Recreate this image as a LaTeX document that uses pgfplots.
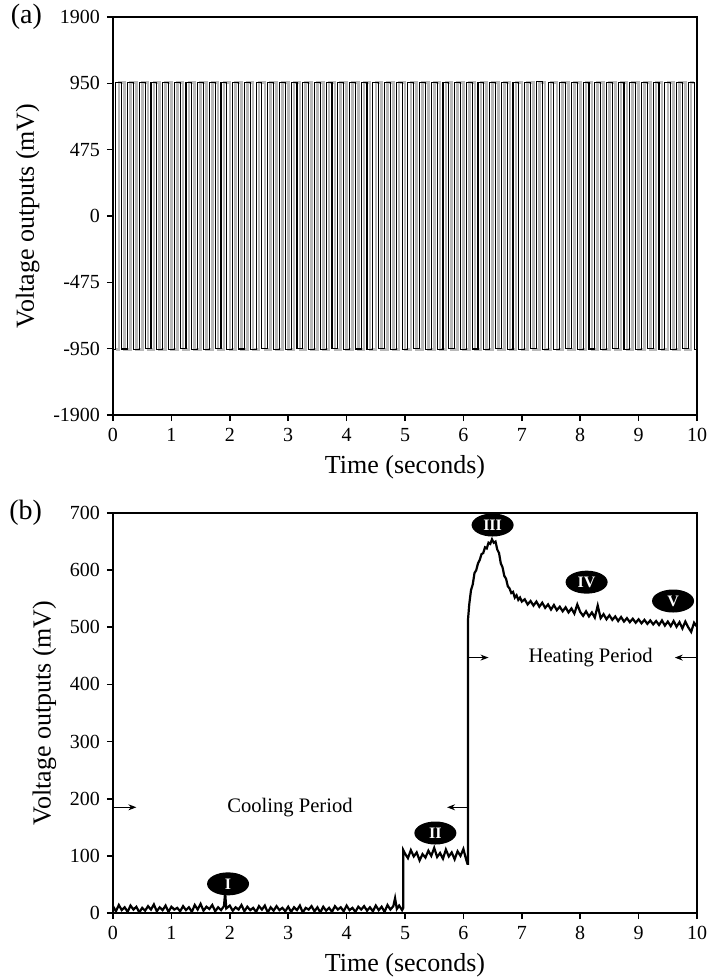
\documentclass[border=0pt]{standalone}
\usepackage{fontspec}
\setmainfont{Liberation Serif}
\usepackage{pgfplots}
\pgfplotsset{compat=1.18}
\usetikzlibrary{shapes.geometric,arrows.meta}

\pgfplotsset{
  panel/.style={
    scale only axis, width=292pt, height=200pt,
    xmin=0, xmax=10, xtick={0,1,...,10},
    tick pos=left, tick align=outside,
    major tick length=3pt,
    axis line style={line width=0.8pt},
    every tick/.style={line width=0.8pt, black},
    tick label style={font=\fontsize{10}{12}\selectfont},
    label style={font=\fontsize{13}{15}\selectfont},
    /pgf/number format/assume math mode=true,
    xlabel={Time (seconds)},
    ylabel={Voltage outputs (mV)},
  },
}
\tikzset{
  roman/.style={ellipse, fill=black, text=white, inner sep=0pt,
    minimum width=21pt, minimum height=11.5pt,
    font=\bfseries\fontsize{8}{8}\selectfont},
  arr/.style={-{Stealth[length=4pt,width=3pt]}, line width=0.5pt},
}

\begin{document}
\begin{tikzpicture}
\useasboundingbox (-56.5pt,-282.5pt) rectangle (298.5pt,207.5pt);

% (a) square wave
\begin{axis}[panel, name=top, at={(0,0)}, anchor=south west, height=199pt,
    y coord trafo/.code={\pgfmathparse{(#1)>950 ? 1+(#1)/950 : ((#1)<-950 ? -1+(#1)/950 : (#1)/475)}},
    ymin=-1900, ymax=1900,
    ytick={-1900,-950,-475,0,475,950,1900},
    yticklabels={-1900,-950,-475,0,475,950,1900},
]
% gray transitions
\addplot[const plot, no marks, gray!55, line width=1.3pt] coordinates {
(0.05,-958)
(0.1,958)(0.2,-958)(0.3,958)(0.4,-958)(0.5,958)(0.6,-958)(0.7,958)(0.8,-958)(0.9,958)(1.0,-958)
(1.1,958)(1.2,-958)(1.3,958)(1.4,-958)(1.5,958)(1.6,-958)(1.7,958)(1.8,-958)(1.9,958)(2.0,-958)
(2.1,958)(2.2,-958)(2.3,958)(2.4,-958)(2.5,958)(2.6,-958)(2.7,958)(2.8,-958)(2.9,958)(3.0,-958)
(3.1,958)(3.2,-958)(3.3,958)(3.4,-958)(3.5,958)(3.6,-958)(3.7,958)(3.8,-958)(3.9,958)(4.0,-958)
(4.1,958)(4.2,-958)(4.3,958)(4.4,-958)(4.5,958)(4.6,-958)(4.7,958)(4.8,-958)(4.9,958)(5.0,-958)
(5.1,958)(5.2,-958)(5.3,958)(5.4,-958)(5.5,958)(5.6,-958)(5.7,958)(5.8,-958)(5.9,958)(6.0,-958)
(6.1,958)(6.2,-958)(6.3,958)(6.4,-958)(6.5,958)(6.6,-958)(6.7,958)(6.8,-958)(6.9,958)(7.0,-958)
(7.1,958)(7.2,-958)(7.3,958)(7.4,-958)(7.5,958)(7.6,-958)(7.7,958)(7.8,-958)(7.9,958)(8.0,-958)
(8.1,958)(8.2,-958)(8.3,958)(8.4,-958)(8.5,958)(8.6,-958)(8.7,958)(8.8,-958)(8.9,958)(9.0,-958)
(9.1,958)(9.2,-958)(9.3,958)(9.4,-958)(9.5,958)(9.6,-958)(9.7,958)(9.8,-958)(9.9,958)(9.95,958)
};
\addplot[const plot, no marks, black, line width=0.55pt] coordinates {
(0,-958)
(0.05,962)(0.15,-955)(0.25,965)(0.35,-960)(0.45,958)(0.55,-952)(0.65,963)(0.75,-957)(0.85,960)(0.95,-962)
(1.05,966)(1.15,-950)(1.25,957)(1.35,-958)(1.45,964)(1.55,-963)(1.65,961)(1.75,-954)(1.85,968)(1.95,-959)
(2.05,962)(2.15,-955)(2.25,965)(2.35,-960)(2.45,958)(2.55,-952)(2.65,963)(2.75,-957)(2.85,960)(2.95,-962)
(3.05,966)(3.15,-950)(3.25,957)(3.35,-958)(3.45,964)(3.55,-963)(3.65,961)(3.75,-954)(3.85,968)(3.95,-959)
(4.05,962)(4.15,-955)(4.25,965)(4.35,-960)(4.45,958)(4.55,-952)(4.65,963)(4.75,-957)(4.85,960)(4.95,-962)
(5.05,966)(5.15,-950)(5.25,957)(5.35,-958)(5.45,964)(5.55,-963)(5.65,961)(5.75,-954)(5.85,968)(5.95,-959)
(6.05,962)(6.15,-955)(6.25,965)(6.35,-960)(6.45,958)(6.55,-952)(6.65,963)(6.75,-957)(6.85,960)(6.95,-962)
(7.05,966)(7.15,-950)(7.25,972)(7.35,-958)(7.45,964)(7.55,-963)(7.65,961)(7.75,-954)(7.85,968)(7.95,-959)
(8.05,962)(8.15,-955)(8.25,965)(8.35,-960)(8.45,958)(8.55,-952)(8.65,963)(8.75,-957)(8.85,960)(8.95,-962)
(9.05,966)(9.15,-950)(9.25,957)(9.35,-958)(9.45,964)(9.55,-963)(9.65,961)(9.75,-954)(9.85,968)(9.95,-959)
(10,-959)
};
\end{axis}

% (b) cooling / heating response
\begin{axis}[panel, name=bot, at={(0,-249pt)}, anchor=south west,
    ymin=0, ymax=700, ytick={0,100,...,700},
]
\addplot[no marks, black, line width=1.1pt] coordinates {
(0.00,12)(0.05,3)(0.10,14)(0.15,5)(0.20,10)(0.25,2)(0.30,13)(0.35,6)(0.40,11)(0.45,1)
(0.50,9)(0.55,4)(0.60,12)(0.65,6)(0.70,15)(0.75,3)(0.80,10)(0.85,5)(0.90,13)(0.95,2)
(1.00,11)(1.05,6)(1.10,9)(1.15,3)(1.20,12)(1.25,5)(1.30,10)(1.35,2)(1.40,14)(1.45,6)
(1.50,16)(1.55,4)(1.60,11)(1.65,7)(1.70,14)(1.75,3)(1.80,10)(1.85,5)(1.90,12)(1.92,36)(1.94,8)
(2.00,13)(2.05,4)(2.10,10)(2.15,6)(2.20,14)(2.25,3)(2.30,11)(2.35,5)(2.40,9)(2.45,2)
(2.50,12)(2.55,6)(2.60,13)(2.65,1)(2.70,10)(2.75,4)(2.80,12)(2.85,5)(2.90,9)(2.95,3)
(3.00,11)(3.05,2)(3.10,10)(3.15,5)(3.20,13)(3.25,1)(3.30,9)(3.35,6)(3.40,12)(3.45,3)
(3.50,10)(3.55,1)(3.60,11)(3.65,4)(3.70,9)(3.75,2)(3.80,12)(3.85,6)(3.90,10)(3.95,3)
(4.00,13)(4.05,5)(4.10,9)(4.15,2)(4.20,11)(4.25,6)(4.30,12)(4.35,4)(4.40,10)(4.45,3)
(4.50,13)(4.55,5)(4.60,11)(4.65,2)(4.70,14)(4.75,6)(4.80,12)(4.83,26)(4.86,7)(4.90,13)(4.95,5)
(4.97,9)(4.97,110)
(5.00,104)(5.05,96)(5.10,110)(5.15,99)(5.20,106)(5.25,92)(5.30,103)(5.35,97)(5.40,109)(5.45,100)
(5.50,114)(5.55,98)(5.60,105)(5.65,95)(5.70,111)(5.75,99)(5.80,106)(5.85,94)(5.90,108)(5.95,100)
(6.00,112)(6.04,96)(6.07,86)(6.08,86)(6.08,515)
(6.10,540)(6.13,565)(6.16,575)(6.19,595)(6.22,600)(6.25,612)(6.28,618)(6.31,628)(6.34,630)(6.37,640)
(6.40,638)(6.43,648)(6.46,646)(6.49,654)(6.52,648)(6.55,650)(6.58,636)(6.61,630)(6.64,612)(6.67,605)
(6.70,590)(6.73,585)(6.76,572)(6.79,568)(6.82,560)(6.85,562)(6.88,552)(6.91,556)(6.94,548)(6.97,552)
(7.00,545)(7.05,549)(7.10,540)(7.15,546)(7.20,538)(7.25,545)(7.30,536)(7.35,543)(7.40,534)(7.45,540)
(7.50,531)(7.55,539)(7.60,530)(7.65,536)(7.70,528)(7.75,535)(7.80,526)(7.85,533)(7.90,524)(7.95,540)
(8.00,527)(8.05,520)(8.10,528)(8.15,519)(8.20,526)(8.25,517)(8.30,538)(8.35,516)(8.40,523)(8.45,514)
(8.50,521)(8.55,513)(8.60,519)(8.65,511)(8.70,518)(8.75,510)(8.80,516)(8.85,509)(8.90,515)(8.95,508)
(9.00,514)(9.05,507)(9.10,513)(9.15,506)(9.20,512)(9.25,505)(9.30,511)(9.35,504)(9.40,512)(9.45,503)
(9.50,510)(9.55,502)(9.60,511)(9.65,501)(9.70,509)(9.75,498)(9.80,510)(9.85,500)(9.90,492)(9.95,508)
(10.00,501)
};
\node[roman] at (axis cs:1.97,51) {I};
\node[roman] at (axis cs:5.52,140) {II};
\node[roman] at (axis cs:6.5,679) {III};
\node[roman] at (axis cs:8.11,579) {IV};
\node[roman] at (axis cs:9.59,546) {V};
\draw[arr] (axis cs:0,185) -- (axis cs:0.4,185);
\draw[arr] (axis cs:6.08,185) -- (axis cs:5.72,185);
\node[font=\fontsize{10.3}{12}\selectfont] at (axis cs:3.03,185) {Cooling Period};
\draw[arr] (axis cs:6.08,447) -- (axis cs:6.43,447);
\draw[arr] (axis cs:10,447) -- (axis cs:9.62,447);
\node[font=\fontsize{10.3}{12}\selectfont] at (axis cs:8.18,447) {Heating Period};
\end{axis}

\node[anchor=east, font=\fontsize{14}{16}\selectfont] at ([xshift=-32pt]top.north west) {(a)};
\node[anchor=east, font=\fontsize{14}{16}\selectfont] at ([xshift=-32pt]bot.north west) {(b)};
\end{tikzpicture}
\end{document}
